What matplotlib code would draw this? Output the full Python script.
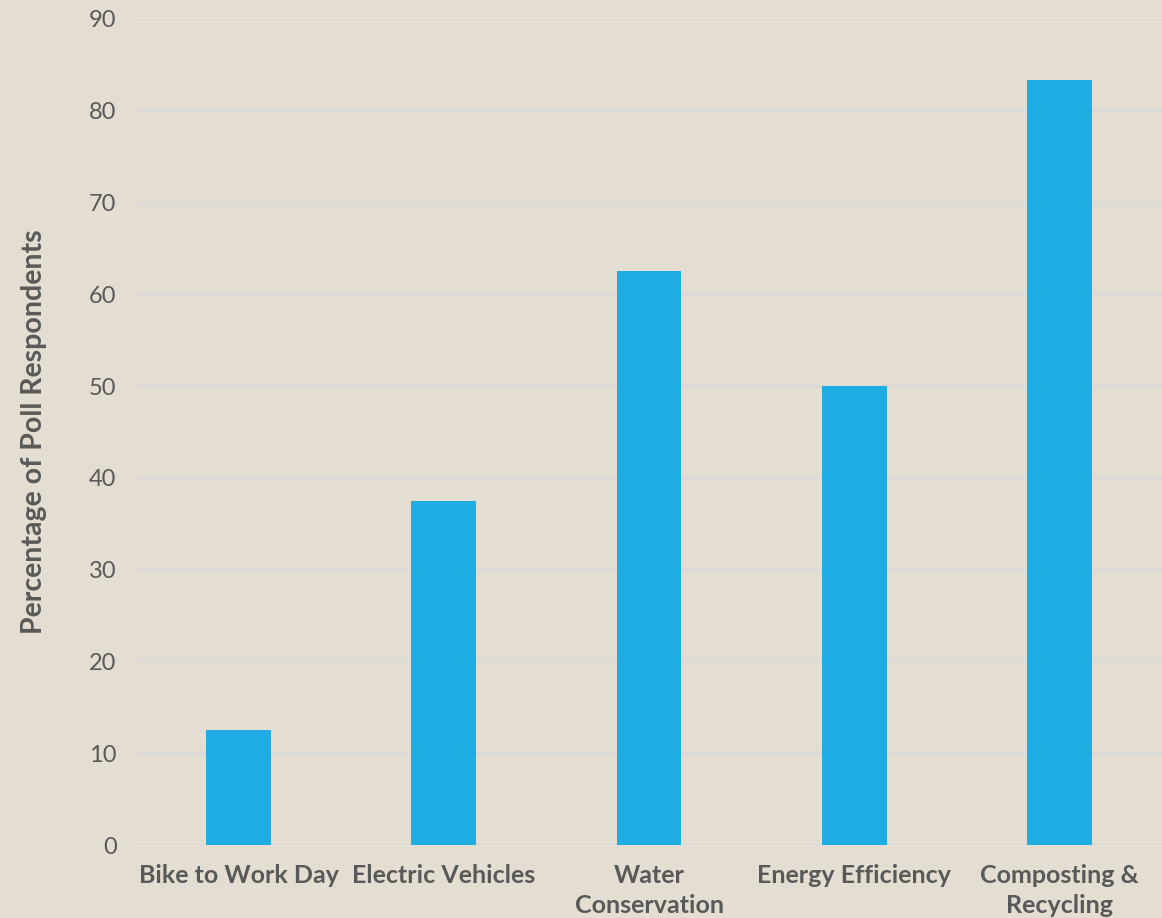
import matplotlib.pyplot as plt

# Poll: share of respondents interested in each sustainability topic
categories = ['Bike to Work Day', 'Electric Vehicles', 'Water\nConservation',
              'Energy Efficiency', 'Composting &\nRecycling']
percentages = [12.5, 37.5, 62.5, 50.0, 83.3]
y_ticks = [0, 10, 20, 30, 40, 50, 60, 70, 80, 90]

bg = '#E3DDD2'
bar_color = '#1EACE2'
text_color = '#595959'

plt.rcParams['font.family'] = ['Lato', 'DejaVu Sans']

fig = plt.figure(figsize=(11.62, 9.18), dpi=100, facecolor=bg)
ax = fig.add_axes([136 / 1162, 73 / 918, 1 - 136 / 1162, 826 / 918])
ax.set_facecolor(bg)

x = range(len(categories))
ax.bar(x, percentages, width=0.316, color=bar_color, zorder=3)

ax.set_xlim(-0.5, len(categories) - 0.5)
ax.set_ylim(0, 90)
ax.set_yticks(y_ticks)
ax.set_xticks(list(x))
ax.set_xticklabels(categories, fontsize=18, fontweight='bold', color=text_color,
                   linespacing=1.35, va='top')
ax.tick_params(axis='y', labelsize=17, colors=text_color, length=0, pad=14)
ax.tick_params(axis='x', length=0, pad=14)

ax.grid(axis='y', color='#D9D9D9', linewidth=1.5, zorder=0)
for s in ax.spines.values():
    s.set_visible(False)

ax.set_ylabel('Percentage of Poll Respondents', fontsize=20.5, fontweight='bold',
              color=text_color, labelpad=30)

fig.savefig('out.png', dpi=100, facecolor=bg)
